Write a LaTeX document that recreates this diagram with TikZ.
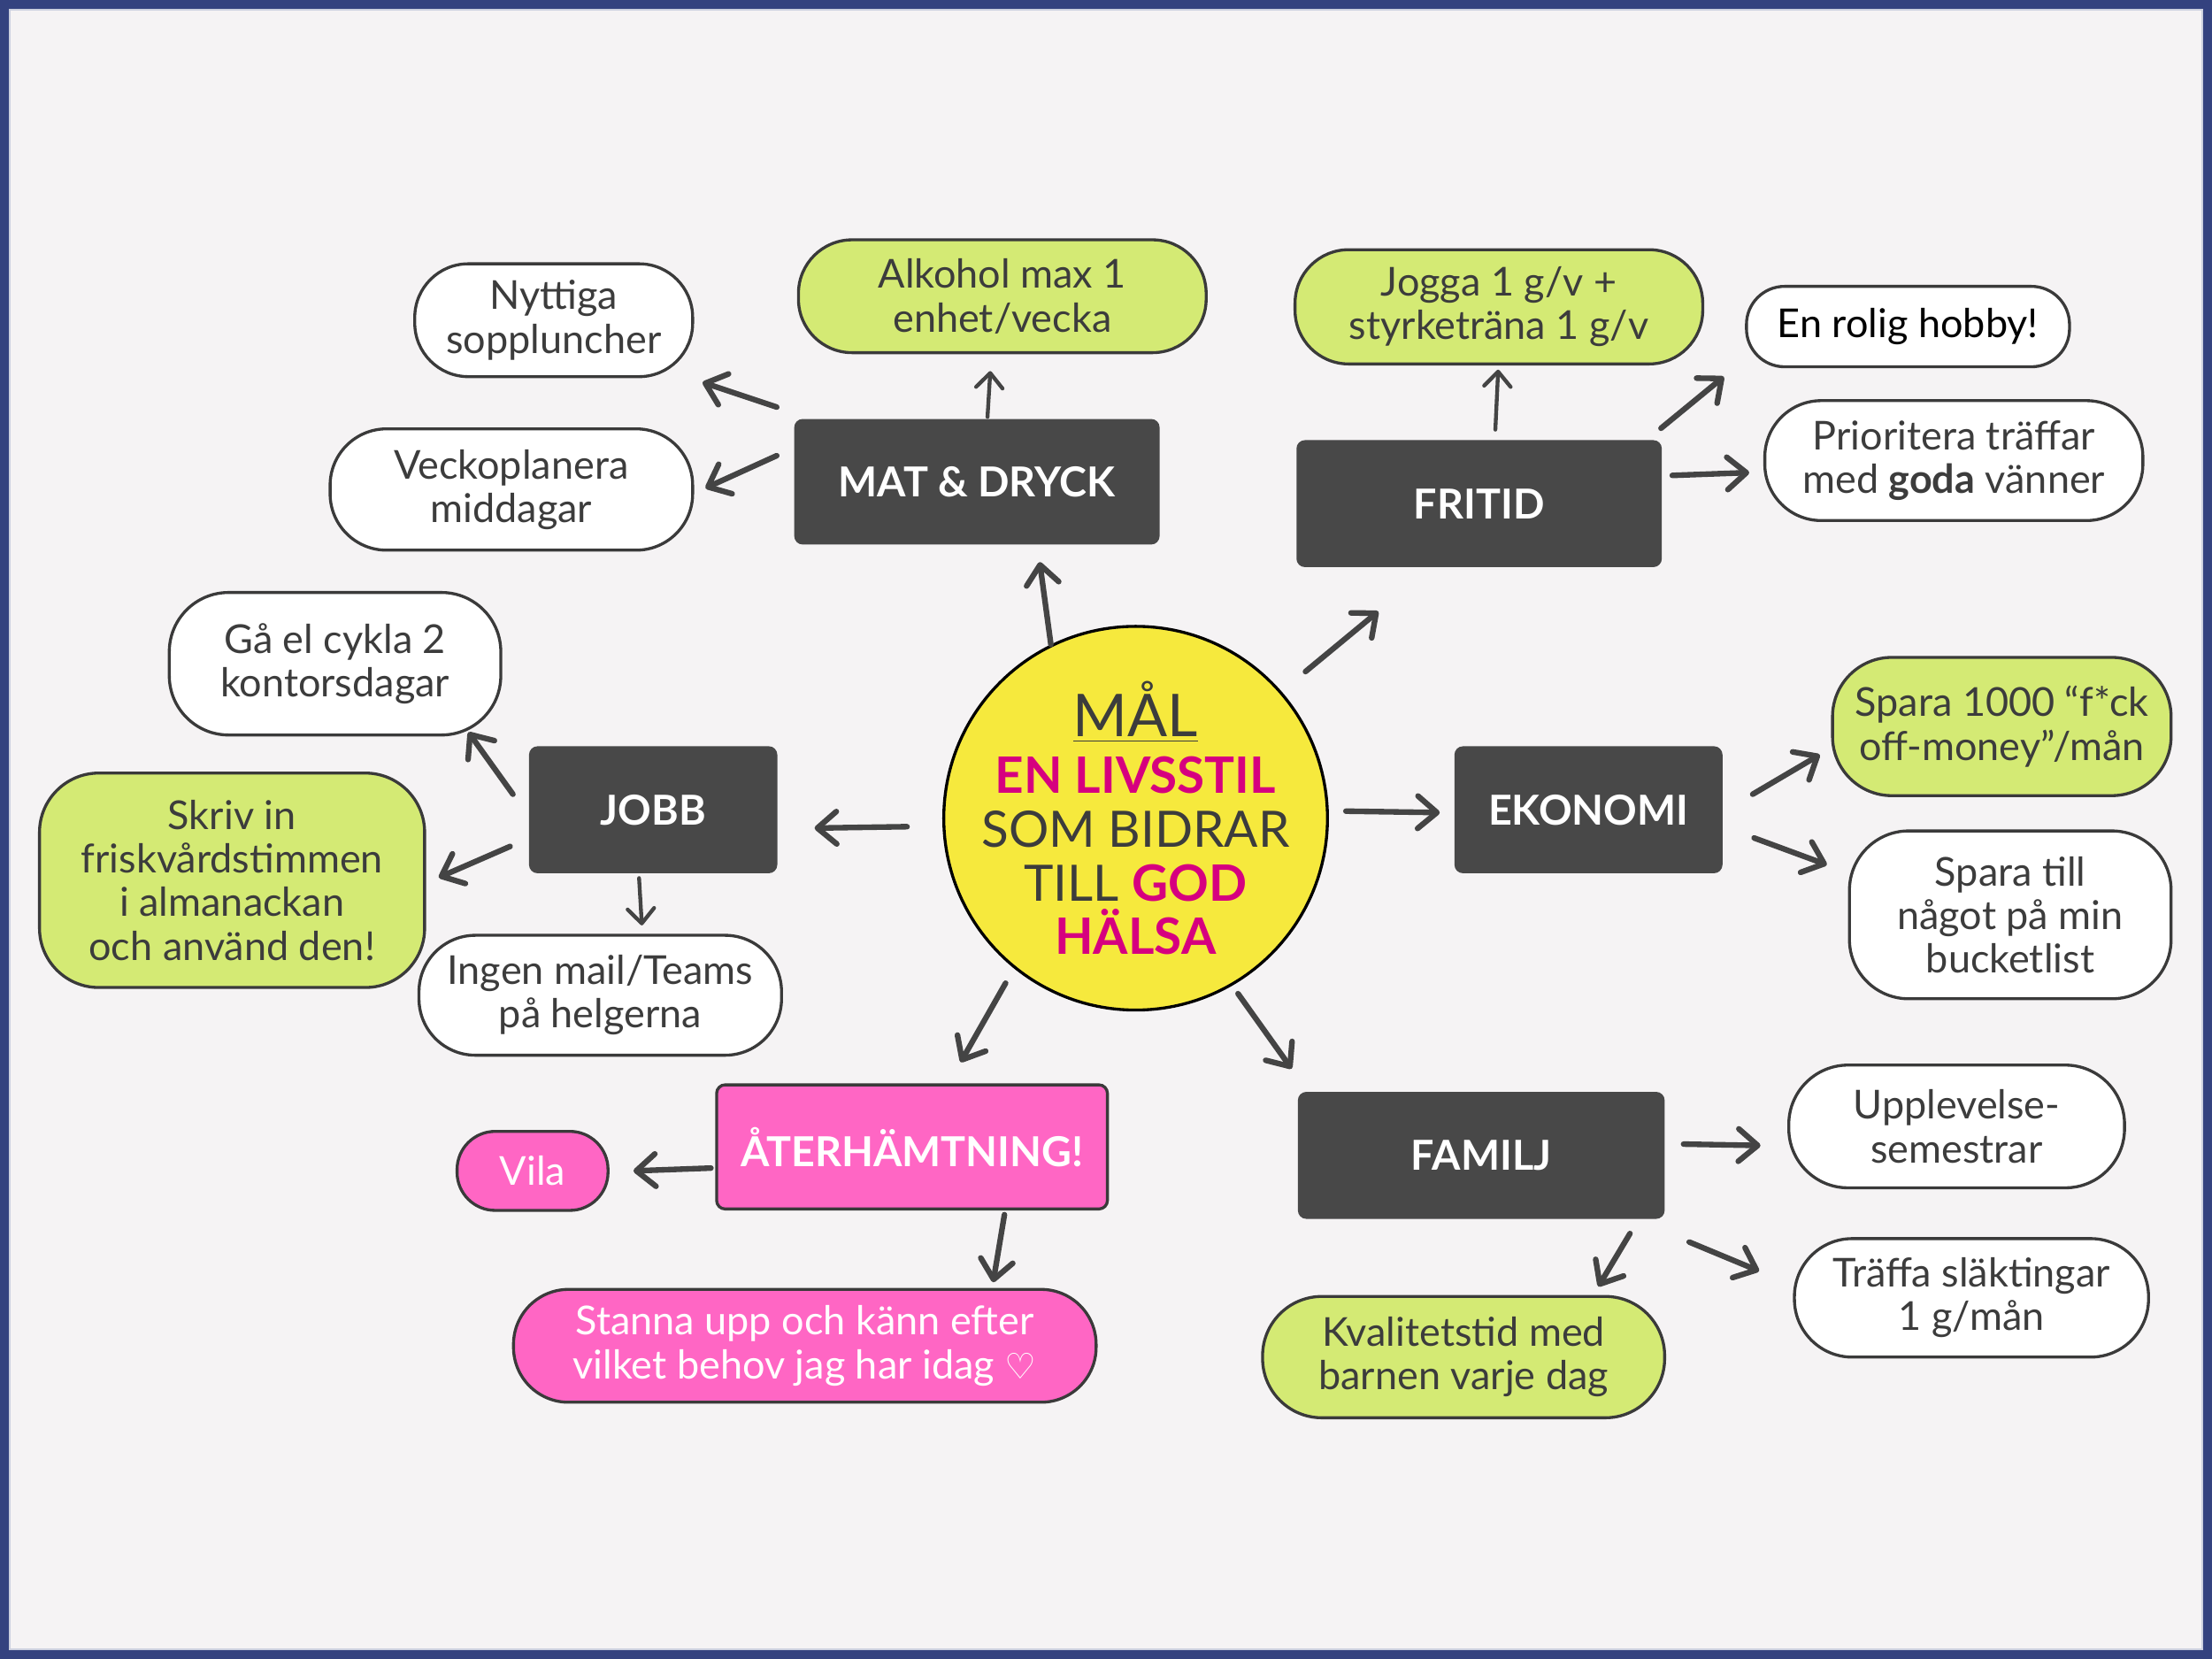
\documentclass[tikz,border=0pt]{standalone}
\usepackage{fontspec}
\setmainfont{Lato}
\newfontfamily\symfont{DejaVu Sans}
\usetikzlibrary{arrows.meta,calc}
\definecolor{bgc}{HTML}{F5F3F4}
\definecolor{framec}{HTML}{34427F}
\definecolor{greenc}{HTML}{D4EA74}
\definecolor{pinkc}{HTML}{FF66C4}
\definecolor{yellowc}{HTML}{F6E93D}
\definecolor{magc}{HTML}{D6007F}
\definecolor{darkc}{HTML}{484848}
\definecolor{txtc}{HTML}{3C3C3C}
\definecolor{arrc}{HTML}{444444}
\definecolor{bordc}{HTML}{3A3A3A}
\begin{document}
\begin{tikzpicture}[x=0.4783pt,y=-0.4783pt,
  sz/.style 2 args={minimum width=#1*0.4783pt, minimum height=#2*0.4783pt},
  base/.style={draw=bordc, line width=1pt, align=center, inner sep=0pt, text=txtc,
    font=\fontsize{13.5}{14.8}\selectfont},
  pill/.style={base, rounded corners=#1*0.4783pt},
  whitebox/.style={pill=#1, fill=white},
  greenbox/.style={pill=#1, fill=greenc},
  pinkbox/.style={pill=#1, fill=pinkc, text=white},
  catbox/.style={fill=darkc, rounded corners=6*0.4783pt, text=white, align=center,
    inner sep=0pt, font=\fontsize{14}{16}\selectfont\bfseries},
  arr/.style={draw=arrc, line width=1.9pt, line cap=round,
    -{Straight Barb[length=6.5pt,width=11pt,round]}},
  thinarr/.style={draw=arrc, line width=1.3pt, line cap=round,
    -{Straight Barb[length=5pt,width=9pt,round]}}
]
% frame and background
\fill[framec] (0,0) rectangle (1568,1176);
\fill[bgc] (7,7) rectangle (1561,1169);
\draw[white!75!framec, line width=0.4pt] (7,7) rectangle (1561,1169);
\useasboundingbox (0,0) rectangle (1568,1176);

% MAT & DRYCK
\node[catbox, sz={259}{89}] (mat) at (692.5,341.5) {MAT \& DRYCK};
\node[whitebox=38, sz={197}{80}] (nyt) at (392.5,227) {Nyttiga\\soppluncher};
\node[greenbox=38, sz={289}{80}] (alk) at (710.5,210) {Alkohol max 1\\enhet/vecka};
\node[whitebox=40, sz={257}{86}] (veck) at (362.5,347) {Veckoplanera\\middagar};

% FRITID
\node[catbox, sz={259}{90}] (fri) at (1048.5,357) {FRITID};
\node[greenbox=38, sz={289}{81}] (jog) at (1062.5,217.5) {Jogga 1 g/v +\\styrketräna 1 g/v};
\node[whitebox=27, sz={229}{57}, text=black] (hob) at (1352.5,231.5) {En rolig hobby!};
\node[whitebox=40, sz={268}{85}] (pri) at (1385,326.5) {Prioritera träffar\\med \textbf{goda} vänner};

% JOBB
\node[catbox, sz={176}{90}] (jobb) at (463,574) {JOBB};
\node[whitebox=42, sz={235}{101}] (ga) at (237.5,470.5) {Gå el cykla 2\\kontorsdagar};
\node[greenbox=42, sz={273}{152}] (skr) at (164.5,624) {Skriv in\\friskvårdstimmen\\i almanackan\\och använd den!};
\node[whitebox=40, sz={257}{85}] (ing) at (425.5,705.5) {Ingen mail/Teams\\på helgerna};

% centre
\node[circle, fill=yellowc, draw=black, line width=1pt, minimum size=272*0.4783pt,
  inner sep=0pt] (mal) at (805,580) {};
\node[align=center, inner sep=0pt, text=txtc, font=\fontsize{17}{18.2}\selectfont] (maltext) at (805,580)
  {{\fontsize{20}{20}\selectfont\underline{MÅL}}\\[1pt]
   \textcolor{magc}{\textbf{EN LIVSSTIL}}\\
   SOM BIDRAR\\
   TILL \textcolor{magc}{\textbf{GOD}}\\
   \textcolor{magc}{\textbf{HÄLSA}}};

% EKONOMI
\node[catbox, sz={190}{90}] (eko) at (1126,574) {EKONOMI};
\node[greenbox=42, sz={240}{98}] (sp1) at (1419,515) {Spara 1000 “f*ck\\off-money”/mån};
\node[whitebox=42, sz={228}{119}] (spt) at (1425,648.5) {Spara till\\något på min\\bucketlist};

% ÅTERHÄMTNING
\node[base, fill=pinkc, rounded corners=6*0.4783pt, sz={277}{88}, text=white,
  font=\fontsize{14}{16}\selectfont\bfseries] (ater) at (646.5,813) {ÅTERHÄMTNING!};
\node[pinkbox=27, sz={107}{56}] (vila) at (377.5,830) {Vila};
\node[pinkbox=39, sz={413}{80}] (stan) at (570.5,954) {Stanna upp och känn efter\\vilket behov jag har idag {\symfont\fontsize{12}{14}\selectfont ♡}};

% FAMILJ
\node[catbox, sz={260}{90}] (fam) at (1050,819) {FAMILJ};
\node[whitebox=42, sz={238}{87}] (upp) at (1387,798.5) {Upplevelse-\\semestrar};
\node[whitebox=41, sz={251}{84}] (tra) at (1397.5,920) {Träffa släktingar\\1 g/mån};
\node[greenbox=42, sz={285}{86}] (kva) at (1037.5,962) {Kvalitetstid med\\barnen varje dag};

% connectors
\draw[arr] ([shift={(-12,-8)}]mat.north west) -- ([shift={(6,3)}]nyt.south east);
\draw[arr] ([shift={(-12,-18.5)}]mat.west) -- ([shift={(8,-1)}]veck.east);
\draw[thinarr] ([shift={(7.5,-1)}]mat.north) -- ([shift={(-8.5,12)}]alk.south);
\draw[arr] (mal.116) -- ([shift={(44.5,12)}]mat.south);

\draw[arr, shorten <=22*0.4783pt] (mal.41) -- ([shift={(-71.5,31)}]fri.south);
\draw[thinarr] ([shift={(11.5,-7)}]fri.north) -- ([shift={(-0.5,3)}]jog.south);
\draw[arr] ([shift={(-1,-8)}]fri.north east) -- ([shift={(-15,6)}]hob.south west);
\draw[arr] ([shift={(7,-20)}]fri.east) -- ([shift={(-10,8.5)}]pri.west);

\draw[arr] ([shift={(12,-5)}]mal.east) -- ([shift={(-10,2)}]eko.west);
\draw[arr] ([shift={(21,-11)}]eko.east) -- ([shift={(-8,20)}]sp1.west);
\draw[arr] ([shift={(22,20)}]eko.east) -- ([shift={(-15,-35.5)}]spt.west);

\draw[arr] ([shift={(-25,6)}]mal.west) -- ([shift={(26,13)}]jobb.east);
\draw[arr] ([shift={(-11,-11)}]jobb.west) -- ([shift={(-24,-3)}]ga.south east);
\draw[arr] ([shift={(-13,26)}]jobb.west) -- ([shift={(9,-2)}]skr.east);
\draw[thinarr] ([shift={(-10,3)}]jobb.south) -- ([shift={(29.5,-6)}]ing.north);

\draw[arr, shorten <=12*0.4783pt] (mal.231.6) -- ([shift={(34.5,-15)}]ater.north);
\draw[arr, shorten <=7*0.4783pt] (mal.300.7) -- ([shift={(-4,-16)}]fam.north west);
\draw[arr] ([shift={(-3,15)}]ater.west) -- ([shift={(17,0)}]vila.east);
\draw[arr] ([shift={(65.5,3)}]ater.south) -- ([shift={(133.5,-4)}]stan.north);

\draw[arr] ([shift={(13,-8)}]fam.east) -- ([shift={(-19,13.5)}]upp.west);
\draw[arr] ([shift={(17,16)}]fam.south east) -- ([shift={(-24,-19)}]tra.west);
\draw[arr] ([shift={(-25,10)}]fam.south east) -- ([shift={(95.5,-6)}]kva.north);
\end{tikzpicture}
\end{document}
